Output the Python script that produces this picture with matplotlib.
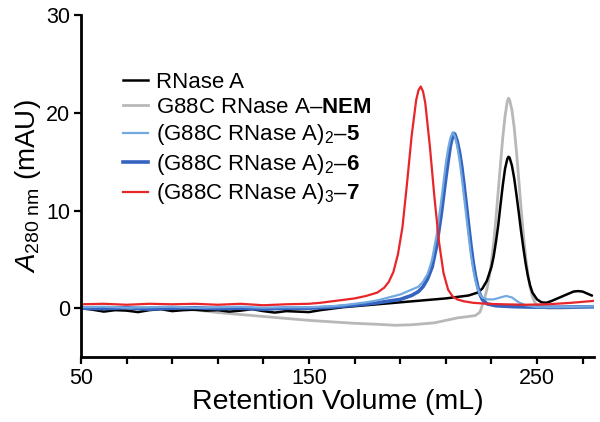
import numpy as np
import matplotlib
matplotlib.use("Agg")
import matplotlib.pyplot as plt
from matplotlib.ticker import FixedLocator, FixedFormatter

plt.rcParams['font.family'] = ['Liberation Sans', 'DejaVu Sans']
plt.rcParams['mathtext.fontset'] = 'custom'
plt.rcParams['mathtext.rm'] = 'Liberation Sans'
plt.rcParams['mathtext.it'] = 'Liberation Sans:italic'
plt.rcParams['mathtext.bf'] = 'Liberation Sans:bold'

# RNase A
x_wt = [50, 55, 60, 65, 70, 75, 80, 85, 90, 95, 100, 105, 110, 115, 120, 125, 130, 135,
        140, 145, 150, 155, 160, 165, 170, 175, 180, 185, 190, 195, 200, 205, 210, 215,
        220, 224, 226, 228, 230, 231, 232, 233, 234, 235, 236, 237, 237.5, 238, 239, 240,
        241, 242, 243, 244, 245, 246, 247, 248, 250, 252, 254, 256, 258, 260, 263, 266,
        268, 270, 272, 274]
y_wt = [0.0, -0.15, -0.35, -0.2, -0.25, -0.4, -0.2, -0.1, -0.3, -0.2, -0.15, -0.25, -0.2,
        -0.35, -0.25, -0.1, -0.3, -0.45, -0.3, -0.35, -0.4, -0.2, -0.05, 0.1, 0.2, 0.3,
        0.4, 0.5, 0.6, 0.7, 0.8, 0.9, 1.0, 1.15, 1.3, 1.6, 2.0, 2.8, 4.2, 5.3, 6.8, 8.5,
        10.6, 12.6, 14.3, 15.3, 15.5, 15.4, 14.6, 13.3, 11.6, 9.8, 7.9, 6.2, 4.6, 3.3, 2.3,
        1.6, 0.9, 0.6, 0.55, 0.7, 0.9, 1.1, 1.4, 1.7, 1.75, 1.7, 1.5, 1.3]

# G88C RNase A-NEM
x_nem = [50, 60, 70, 80, 90, 95, 100, 105, 110, 120, 130, 140, 150, 160, 170, 180, 188,
         195, 200, 205, 210, 215, 220, 223, 225, 226, 227, 228, 229, 230, 231, 232, 233,
         234, 235, 236, 237, 237.5, 238, 239, 240, 241, 242, 243, 244, 245, 246, 247, 248,
         249, 250, 252, 255, 260, 265, 270, 275]
y_nem = [0.0, 0.05, 0.0, 0.05, 0.0, 0.0, -0.2, -0.3, -0.45, -0.65, -0.85, -1.05, -1.25,
         -1.4, -1.55, -1.65, -1.75, -1.7, -1.6, -1.5, -1.25, -1.0, -0.85, -0.75, -0.4, 0.3,
         1.0, 1.9, 3.1, 4.7, 6.7, 9.2, 12.0, 14.8, 17.5, 19.7, 21.2, 21.5, 21.3, 20.3, 18.5,
         16.0, 13.2, 10.3, 7.6, 5.3, 3.5, 2.1, 1.2, 0.6, 0.3, 0.1, 0.0, 0.0, 0.05, 0.1, 0.15]

# (G88C RNase A)2-5
x_d5 = [50, 60, 70, 80, 90, 100, 110, 120, 130, 140, 150, 160, 165, 170, 175, 180, 185,
        190, 195, 198, 200, 202, 203, 204, 206, 208, 210, 211, 212, 213, 214, 215, 216,
        217, 218, 219, 220, 221, 222, 223, 224, 225, 226, 228, 231, 234, 236.5, 239, 242,
        245, 250, 260, 275]
y_d5 = [0.1, 0.15, 0.05, 0.1, 0.15, 0.05, 0.1, 0.15, 0.05, 0.1, 0.1, 0.2, 0.3, 0.45, 0.6,
        0.8, 1.1, 1.4, 1.9, 2.2, 2.7, 3.5, 4.2, 5.0, 7.5, 11.0, 14.8, 16.3, 17.4, 18.0, 17.6,
        16.6, 15.2, 13.4, 11.4, 9.4, 7.4, 5.5, 4.0, 2.8, 2.0, 1.4, 1.1, 0.9, 0.9, 1.1, 1.25,
        1.1, 0.6, 0.3, 0.1, 0.1, 0.2]

# (G88C RNase A)2-6
x_d6 = [50, 60, 70, 80, 90, 100, 110, 120, 130, 140, 150, 160, 170, 180, 190, 195, 198,
        200, 202, 204, 206, 208, 210, 211, 212, 213, 213.5, 214, 215, 216, 217, 218, 219,
        220, 221, 222, 223, 224, 225, 226, 228, 232, 240, 250, 260, 275]
y_d6 = [0.0, -0.05, 0.05, -0.1, 0.0, 0.05, -0.05, 0.0, -0.1, 0.0, 0.0, 0.1, 0.3, 0.55,
        0.9, 1.3, 1.7, 2.2, 3.0, 4.2, 6.4, 9.6, 13.3, 15.0, 16.6, 17.6, 17.9, 17.8, 17.1,
        16.0, 14.5, 12.6, 10.6, 8.5, 6.5, 4.7, 3.3, 2.2, 1.4, 0.9, 0.45, 0.25, 0.15, 0.1,
        0.1, 0.15]

# (G88C RNase A)3-7
x_t7 = [50, 60, 70, 80, 90, 100, 110, 120, 130, 140, 150, 155, 160, 165, 170, 175, 180,
        183, 185, 187, 189, 191, 193, 195, 197, 198, 199, 200, 201, 203, 205, 207, 209, 211,
        213, 215, 218, 222, 228, 235, 245, 255, 265, 275]
y_t7 = [0.4, 0.45, 0.35, 0.45, 0.4, 0.45, 0.35, 0.45, 0.3, 0.4, 0.45, 0.55, 0.7, 0.85,
        1.0, 1.25, 1.6, 2.1, 2.7, 3.7, 5.5, 8.3, 12.8, 17.6, 21.3, 22.3, 22.7, 22.2, 21.0,
        16.6, 11.4, 6.8, 3.6, 1.9, 1.2, 0.9, 0.7, 0.55, 0.45, 0.4, 0.35, 0.4, 0.55, 0.75]

fig = plt.figure(figsize=(6, 4.22), dpi=100)
ax = fig.add_axes([0.135, 0.154, 0.855, 0.81])

l_nem, = ax.plot(x_nem, y_nem, color='#b8b8b8', lw=2.0)
l_wt, = ax.plot(x_wt, y_wt, color='black', lw=1.8)
l_d6, = ax.plot(x_d6, y_d6, color='#3563c0', lw=2.6)
l_d5, = ax.plot(x_d5, y_d5, color='#72a9e0', lw=1.6)
l_t7, = ax.plot(x_t7, y_t7, color='#e8262a', lw=1.6)

ax.legend([l_wt, l_nem, l_d5, l_d6, l_t7],
          ['RNase A', 'G88C RNase A–$\\mathbf{NEM}$',
           '(G88C RNase A)$_2$–$\\mathbf{5}$', '(G88C RNase A)$_2$–$\\mathbf{6}$',
           '(G88C RNase A)$_3$–$\\mathbf{7}$'],
          loc='upper left', bbox_to_anchor=(0.082, 0.835), frameon=False, fontsize=16,
          handlelength=1.1, handletextpad=0.4, labelspacing=0.2, borderpad=0,
          borderaxespad=0)

ax.set_xlim(50, 275)
ax.set_ylim(-5, 30)
xt = [50, 70, 90, 110, 130, 150, 170, 190, 210, 230, 250, 270]
ax.xaxis.set_major_locator(FixedLocator(xt))
ax.xaxis.set_major_formatter(FixedFormatter([str(v) if v in (50, 150, 250) else '' for v in xt]))
ax.set_yticks([0, 10, 20, 30])

for s in ['top', 'right']:
    ax.spines[s].set_visible(False)
for s in ['left', 'bottom']:
    ax.spines[s].set_linewidth(2)
ax.tick_params(direction='out', length=5, width=1.6, labelsize=15.5, pad=3)

ax.set_xlabel('Retention Volume (mL)', fontsize=20.5, labelpad=0)
ax.set_ylabel('$A_{\\mathrm{280\\ nm}}$ (mAU)', fontsize=20, labelpad=2)

fig.savefig('out.png', dpi=100)
